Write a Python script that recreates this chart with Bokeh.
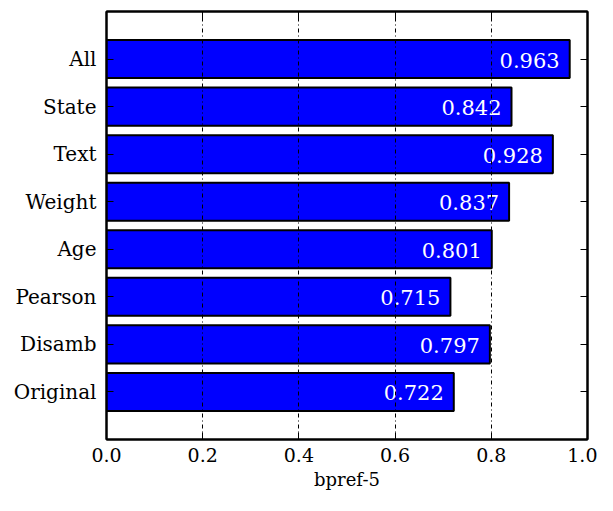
from bokeh.plotting import figure
from bokeh.models import ColumnDataSource, LinearAxis, FixedTicker, Range1d, CustomJSTickFormatter, PrintfTickFormatter
from bokeh.core.properties import value
from bokeh.embed import file_html
from bokeh.resources import INLINE

categories = ["Original", "Disamb", "Pearson", "Age", "Weight", "Text", "State", "All"]
values = [0.722, 0.797, 0.715, 0.801, 0.837, 0.928, 0.842, 0.963]
labels = ["0.722", "0.797", "0.715", "0.801", "0.837", "0.928", "0.842", "0.963"]
x_ticks = [0.0, 0.2, 0.4, 0.6, 0.8, 1.0]

FONT = "DejaVu Serif"
pos = list(range(len(categories)))
src = ColumnDataSource(dict(y=pos, v=values, lab=labels))

p = figure(width=597, height=495, output_backend="svg", toolbar_location=None,
           x_range=Range1d(0, 1.0), y_range=Range1d(-1, len(categories)),
           min_border_left=106, min_border_right=10, min_border_top=11, min_border_bottom=56)

p.hbar(y="y", right="v", left=0, height=0.8, source=src,
       fill_color="#0000ff", line_color="black", line_width=2)
p.text(x="v", y="y", text="lab", source=src, text_align="right", text_baseline="middle",
       x_offset=-10, y_offset=1, text_color="white", text_font_size=value("21px"),
       text_font=value(FONT))

p.yaxis.ticker = FixedTicker(ticks=pos)
p.yaxis.formatter = CustomJSTickFormatter(args=dict(cats=categories), code="return cats[tick] || '';")
p.xaxis.ticker = FixedTicker(ticks=x_ticks)
p.xaxis.formatter = PrintfTickFormatter(format="%.1f")
p.xaxis.axis_label = "bpref-5"

for ax in [p.xaxis[0], p.yaxis[0]]:
    ax.major_label_text_font = FONT
    ax.major_label_text_color = "black"
    ax.major_tick_in = 7
    ax.major_tick_out = 0
    ax.minor_tick_in = 0
    ax.minor_tick_out = 0
    ax.axis_line_width = 2
    ax.axis_line_color = "black"
    ax.major_tick_line_width = 1
p.xaxis.major_label_text_font_size = "19px"
p.yaxis.major_label_text_font_size = "20px"
p.xaxis.major_label_standoff = 8
p.yaxis.major_label_standoff = 10
p.xaxis.axis_label_text_font = FONT
p.xaxis.axis_label_text_font_size = "18px"
p.xaxis.axis_label_text_font_style = "normal"
p.xaxis.axis_label_text_color = "black"
p.xaxis.axis_label_standoff = 4

top = LinearAxis(ticker=FixedTicker(ticks=x_ticks), major_label_text_font_size="0px",
                 major_tick_in=7, major_tick_out=0, minor_tick_in=0, minor_tick_out=0,
                 axis_line_width=2, major_label_standoff=0)
right = LinearAxis(ticker=FixedTicker(ticks=pos), major_label_text_font_size="0px",
                   major_tick_in=7, major_tick_out=0, minor_tick_in=0, minor_tick_out=0,
                   axis_line_width=2, major_label_standoff=0)
p.add_layout(top, "above")
p.add_layout(right, "right")

p.ygrid.grid_line_color = None
p.xgrid.grid_line_color = "black"
p.xgrid.grid_line_dash = "4 3 1 3"
p.xgrid.grid_line_width = 1
p.xgrid.level = "guide"
p.outline_line_color = "black"
p.outline_line_width = 2
p.background_fill_color = "white"

open("out.html", "w").write(file_html(p, INLINE))
